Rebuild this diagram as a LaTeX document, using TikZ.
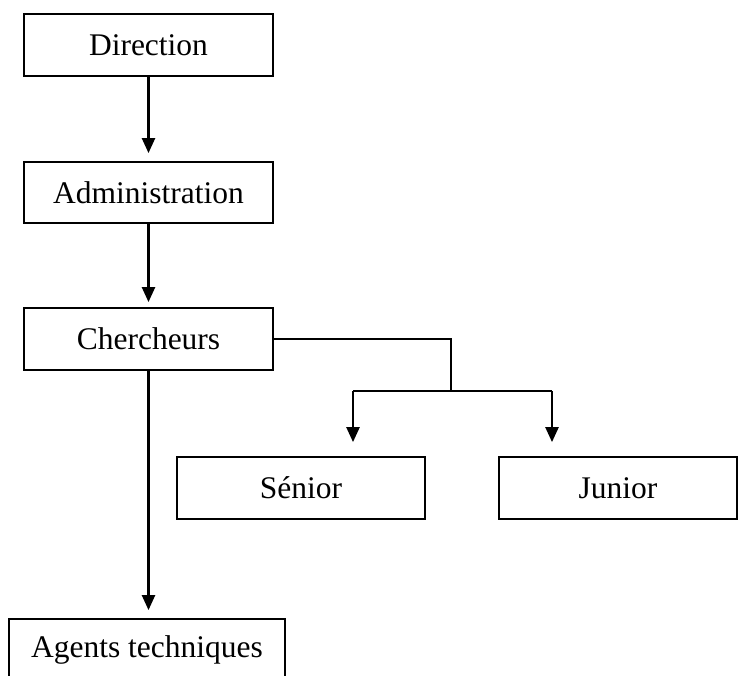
\documentclass[tikz,border=0pt]{standalone}
\usepackage{fontspec}
\setmainfont{Liberation Serif}
\usetikzlibrary{arrows.meta}
\begin{document}
\begin{tikzpicture}[x=1pt,y=-1pt,
  box/.style={draw=black,line width=1.8pt,rectangle,inner sep=0pt,
    font=\fontsize{31.5}{38}\selectfont},
  arr/.style={draw=black,line width=2.4pt,-{Triangle[width=13pt,length=15pt]}},
  conn/.style={draw=black,line width=1.8pt}]
\clip (0,0) rectangle (738,675);
\fill[white] (0,0) rectangle (738,675);
\node[box,minimum width=249pt,minimum height=62pt] (dir) at (148.5,45) {Direction};
\node[box,minimum width=249pt,minimum height=61pt] (adm) at (148.5,192.5) {Administration};
\node[box,minimum width=249pt,minimum height=62pt] (cher) at (148.5,339) {Chercheurs};
\node[box,minimum width=248pt,minimum height=62pt] (sen) at (301,488) {Sénior};
\node[box,minimum width=238pt,minimum height=62pt] (jun) at (618,488) {Junior};
\node[box,minimum width=276pt,minimum height=62pt] (agt) at (147,650) {Agents techniques};
\coordinate (bj) at (451,391);
\coordinate (bl) at (353,391);
\coordinate (br) at (552,391);
\draw[arr,shorten >=8pt] (dir.south) -- (adm.north);
\draw[arr,shorten >=5pt] (adm.south) -- (cher.north);
\draw[arr,shorten >=8pt] (cher.south) -- (cher.south |- agt.north);
\draw[conn] (cher.east) -| (bj);
\draw[conn] (bl) -- (br);
\draw[arr,shorten >=14pt] (bl) -- (bl |- sen.north);
\draw[arr,shorten >=14pt] (br) -- (br |- jun.north);
\end{tikzpicture}
\end{document}
